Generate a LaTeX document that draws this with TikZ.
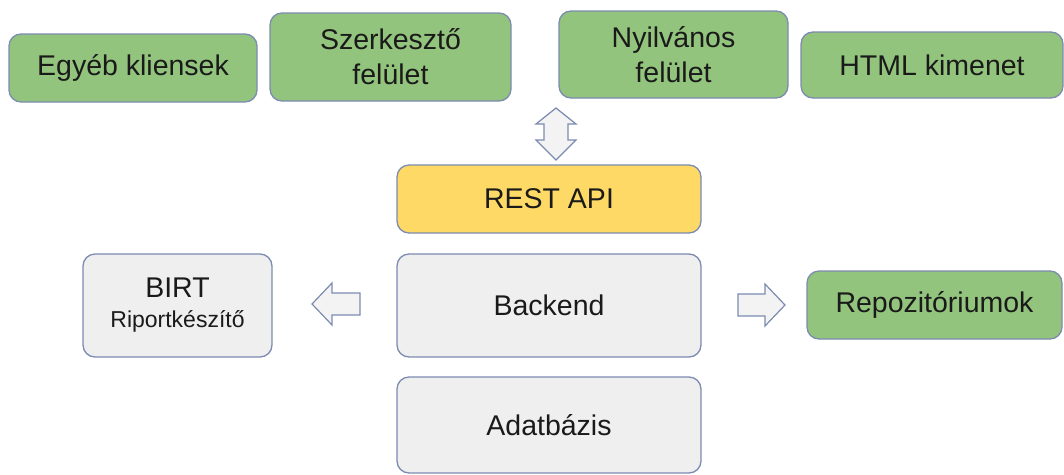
\documentclass[tikz,border=0pt]{standalone}
\usepackage{fontspec}
\setmainfont{Liberation Sans}
\definecolor{bordc}{HTML}{7C8BB0}
\definecolor{greenf}{HTML}{93C47D}
\definecolor{grayf}{HTML}{EFEFEF}
\definecolor{yellowf}{HTML}{FFD966}
\definecolor{arrowf}{HTML}{F3F3F3}
\definecolor{txt}{HTML}{1A1A1A}
\tikzset{
  box/.style={draw=bordc, line width=1.3pt, rounded corners=12pt, inner sep=0pt, outer sep=0pt,
    align=center, text=txt, font=\fontsize{28.5}{35}\selectfont},
  gbox/.style={box, fill=greenf},
  ybox/.style={box, fill=yellowf},
  lbox/.style={box, fill=grayf},
  blockarrow/.style={draw=bordc, line width=1.2pt, fill=arrowf, line join=miter}
}
\begin{document}
\begin{tikzpicture}[x=1pt,y=-1pt]
\useasboundingbox (0,0) rectangle (1064,474);
\node[gbox, minimum width=248pt, minimum height=68pt] (egyeb) at (133,68) {Egyéb kliensek};
\node[gbox, minimum width=241pt, minimum height=88pt] (szerk) at (390.5,57) {Szerkesztő\\felület};
\node[gbox, minimum width=229pt, minimum height=87pt] (nyilv) at (673.5,54.5) {Nyilvános\\felület};
\node[gbox, minimum width=262pt, minimum height=66pt] (html) at (932,65) {HTML kimenet};
\node[ybox, minimum width=304pt, minimum height=68pt] (rest) at (549,199) {REST API};
\node[lbox, minimum width=304pt, minimum height=103pt] (backend) at (549,305.5) {Backend};
\node[lbox, minimum width=304pt, minimum height=96pt] (adat) at (549,425) {Adatbázis};
\node[lbox, minimum width=189pt, minimum height=103pt] (birt) at (177.5,305.5) {BIRT\\[-5pt]{\fontsize{23}{26}\selectfont Riportkészítő}};
\node[gbox, minimum width=255pt, minimum height=68pt] (repo) at (934.5,305) {Repozitóriumok};
% vertical double block arrow
\draw[blockarrow] (556,108) -- (576,124) -- (568,124) -- (568,140) -- (576,140) -- (556,160)
  -- (536,140) -- (544,140) -- (544,124) -- (536,124) -- cycle;
% left block arrow
\draw[blockarrow] (312,304) -- (332,283) -- (332,293) -- (360,293) -- (360,315) -- (332,315) -- (332,325) -- cycle;
% right block arrow
\draw[blockarrow] (785,305) -- (765,284) -- (765,294) -- (738,294) -- (738,316) -- (765,316) -- (765,326) -- cycle;
\end{tikzpicture}
\end{document}
